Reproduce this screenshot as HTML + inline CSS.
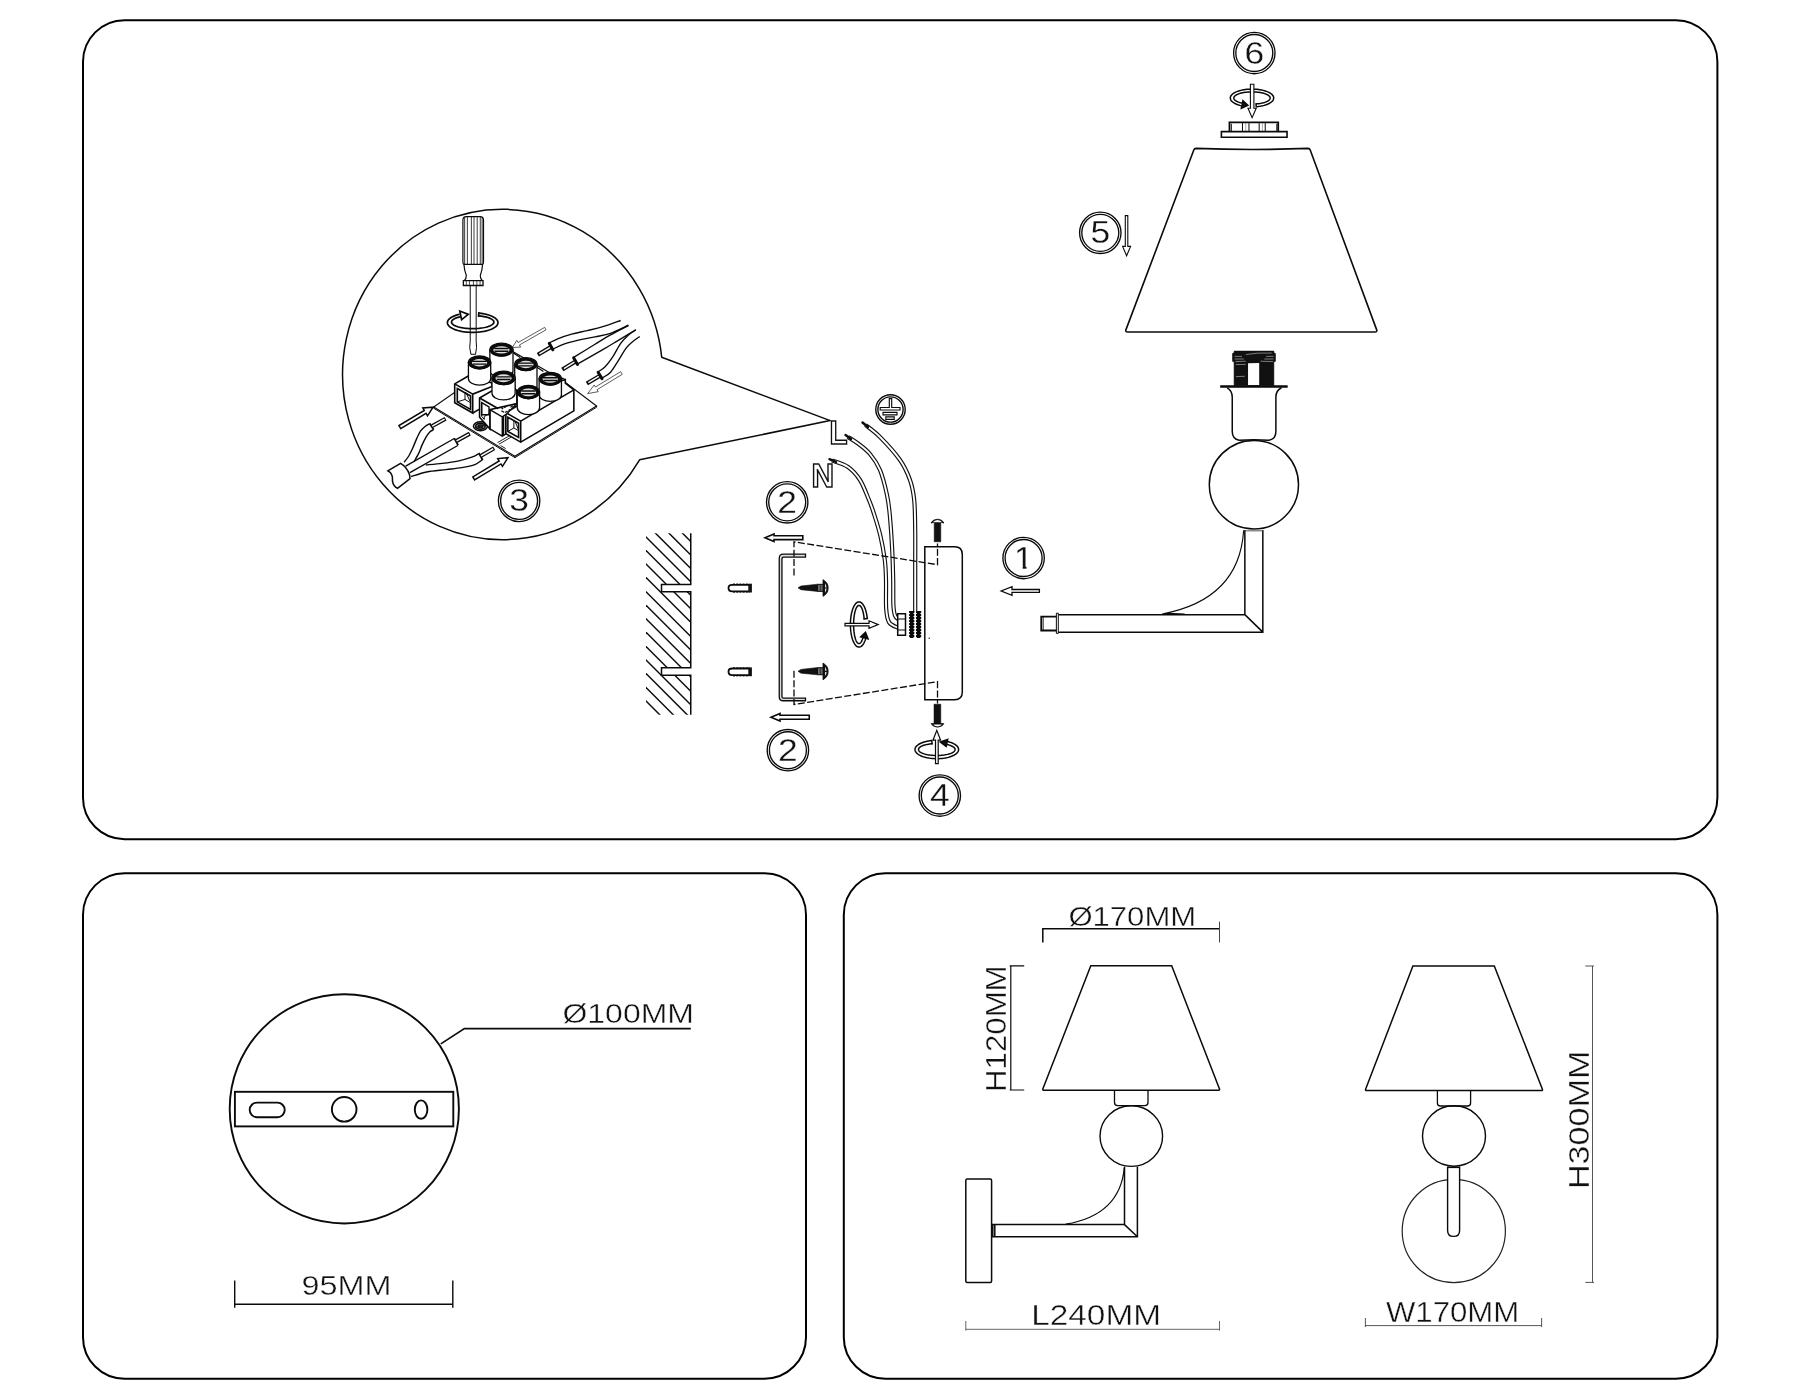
<!DOCTYPE html>
<html><head><meta charset="utf-8"><title>Installation</title>
<style>
html,body{margin:0;padding:0;background:#fff;}
body{width:1800px;height:1400px;overflow:hidden;}
svg{display:block;}
.t{font-family:"Liberation Sans",sans-serif;fill:#111;stroke:none;}
svg{filter:grayscale(1);}
.num{stroke:#fff;stroke-width:0.25px;}
.dim{stroke:#fff;stroke-width:0.4px;}
</style></head><body>
<svg width="1800" height="1400" viewBox="0 0 1800 1400" fill="none" stroke="#0a0a0a" stroke-width="1.3" stroke-linecap="butt" stroke-linejoin="miter">
<rect x="0" y="0" width="1800" height="1400" fill="#fff" stroke="none"/>
<rect x="83" y="20.2" width="1634.4" height="819" rx="41.5" ry="41.5" stroke-width="2" stroke="#000"/>
<rect x="83" y="873.2" width="723" height="505.5" rx="41.5" ry="41.5" stroke-width="2" stroke="#000"/>
<rect x="843.8" y="873.2" width="873.6" height="505.5" rx="41.5" ry="41.5" stroke-width="2" stroke="#000"/>
<g stroke-width="1.9">
<circle cx="344.3" cy="1108.9" r="114.6"/>
<rect x="234.9" y="1091.8" width="218.4" height="34.6"/>
<rect x="249.7" y="1102.6" width="35" height="14.6" rx="7.3" ry="7.3"/>
<circle cx="344.2" cy="1109.3" r="12.3"/>
<ellipse cx="421.1" cy="1109.6" rx="6.3" ry="9.2"/>
</g>
<path d="M440.8 1043.9 L464.4 1028.6 L690.8 1028.6" stroke-width="1.7"/>
<text x="562.5" y="1023.1" class="t dim" font-size="28.4" textLength="131.4" lengthAdjust="spacingAndGlyphs">Ø100MM</text>
<path d="M234.7 1304.2 L452.8 1304.2 M234.7 1280.6 L234.7 1307.8 M452.8 1280.6 L452.8 1307.8" stroke-width="1.4"/>
<text x="301.4" y="1295.3" class="t dim" font-size="28.4" textLength="90" lengthAdjust="spacingAndGlyphs">95MM</text>
<path d="M1042.8 928.8 L1219.5 928.8 M1042.8 928 L1042.8 942.5" stroke-width="1.5"/>
<path d="M1219.5 921.7 L1219.5 942.5" stroke-width="1" stroke="#444"/>
<text x="1068.4" y="926.3" class="t dim" font-size="28.4" textLength="127.8" lengthAdjust="spacingAndGlyphs">Ø170MM</text>
<path d="M1010.8 965.8 L1010.8 1090 M1009.7 965.8 L1024.2 965.8 M1009.7 1090 L1024.2 1090" stroke-width="1.2"/>
<text transform="translate(1005.6 1091.9) rotate(-90)" x="0" y="0" class="t dim" font-size="29.6" textLength="126.5" lengthAdjust="spacingAndGlyphs">H120MM</text>
<path d="M1090.8 965.8 L1171.7 965.8 L1219.5 1089 Q1219.9 1090.2 1218.6 1090.2 L1043.7 1090.2 Q1042.4 1090.2 1042.8 1089 Z" stroke-width="1.5"/>
<path d="M1114.5 1090.2 L1114.5 1102.5 Q1114.5 1105.6 1117.6 1105.6 L1144.9 1105.6 Q1148 1105.6 1148 1102.5 L1148 1090.2" stroke-width="1.3"/>
<ellipse cx="1131.3" cy="1136.1" rx="31.3" ry="30.3" stroke-width="1.4"/>
<path d="M1124.5 1166.8 L1124.5 1224.6 L992.8 1224.6 L992.8 1236.8 L1137.4 1236.8 L1137.4 1166.8 M1124.5 1224.6 L1137.4 1236.8 M994.8 1224.6 L994.8 1236.8" stroke-width="1.5"/>
<path d="M1124.3 1167.7 Q1120 1215 1065.7 1224.2" stroke-width="1.2"/>
<rect x="965.8" y="1178.9" width="25.8" height="103.5" rx="1.5" ry="1.5" stroke-width="1.5"/>
<path d="M965.8 1329.3 L1219.5 1329.3 M965.8 1321 L965.8 1330.6 M1219.5 1321 L1219.5 1330.6" stroke-width="0.9" stroke="#555"/>
<text x="1031.2" y="1324.9" class="t dim" font-size="29" textLength="129.8" lengthAdjust="spacingAndGlyphs">L240MM</text>
<path d="M1412.9 965.9 L1494.3 965.9 L1542.4 1089.3 Q1542.8 1090.5 1541.5 1090.5 L1366.5 1090.5 Q1365.2 1090.5 1365.6 1089.3 Z" stroke-width="1.5"/>
<path d="M1437.4 1090.5 L1437.4 1102.9 Q1437.4 1106 1440.5 1106 L1467.5 1106 Q1470.6 1106 1470.6 1102.9 L1470.6 1090.5" stroke-width="1.3"/>
<circle cx="1453.8" cy="1231" r="51.6" stroke-width="1.2" stroke="#222"/>
<path d="M1447.6 1166.6 L1447.6 1230.4 Q1447.6 1236.4 1453.6 1236.4 Q1459.6 1236.4 1459.6 1230.4 L1459.6 1166.6" fill="#fff" stroke-width="1.4"/>
<ellipse cx="1454" cy="1136" rx="31.5" ry="30.2" stroke-width="1.4"/>
<path d="M1448 1167.3 L1459.4 1167.3" stroke-width="1.6"/>
<path d="M1592.5 966 L1592.5 1282.4 M1585.3 966 L1594 966 M1585.3 1282.4 L1594 1282.4" stroke-width="0.9" stroke="#444"/>
<text transform="translate(1589 1189.1) rotate(-90)" x="0" y="0" class="t dim" font-size="29" textLength="138.6" lengthAdjust="spacingAndGlyphs">H300MM</text>
<path d="M1365 1325.6 L1541.6 1325.6 M1365.4 1318 L1365.4 1327 M1541.6 1318 L1541.6 1327" stroke-width="0.9" stroke="#444"/>
<text x="1385.9" y="1322" class="t dim" font-size="29" textLength="133.4" lengthAdjust="spacingAndGlyphs">W170MM</text>
<path d="M1196 148.4 Q1252 150.6 1308 148.4 Q1309.6 148.4 1310.2 150 L1376.6 329.6 Q1377.4 332 1375 332 L1127.6 332 Q1125.2 332 1126 329.6 L1193.8 150 Q1194.4 148.4 1196 148.4 Z" stroke-width="1.6"/>
<path d="M 1229.47 131.43 L 1229.47 122.42 L 1278.22 122.42 L 1278.22 131.43" stroke-width="1.8"/>
<path d="M 1231.32 123.82 L 1231.32 130.97 M 1242.47 123.07 L 1242.47 131.25 M 1248.97 123.07 L 1248.97 131.25 M 1259.18 123.07 L 1259.18 131.25 M 1265.22 123.07 L 1265.22 131.25 M 1276.82 123.82 L 1276.82 130.97" stroke-width="1.0"/>
<path d="M 1245.72 123.07 L 1245.72 131.25 M 1262.43 123.07 L 1262.43 131.25" stroke-width="0.6" stroke="#777"/>
<path d="M 1221.39 131.62 L 1287.04 131.62 L 1287.04 137.19 L 1221.39 137.19 Z" stroke-width="1.6"/>
<path d="M1241.29 105.74 L1239.87 105.38 L1238.52 104.97 L1237.25 104.53 L1236.06 104.04 L1234.98 103.52 L1233.99 102.96 L1233.11 102.38 L1232.34 101.77 L1231.69 101.14 L1231.16 100.48 L1230.76 99.82 L1230.48 99.14 L1230.33 98.46 L1230.31 97.77 L1230.42 97.08 L1230.65 96.4 L1231.01 95.73 L1231.5 95.08 L1232.11 94.44 L1232.84 93.82 L1233.69 93.23 L1234.64 92.66 L1235.69 92.13 L1236.85 91.63 L1238.09 91.17 L1239.42 90.75 L1240.82 90.37 L1242.28 90.04 L1243.81 89.76 L1245.38 89.52 L1247 89.34 L1248.64 89.21 L1250.3 89.13 L1251.98 89.1 L1253.65 89.13 L1255.31 89.2 L1256.96 89.34 L1258.57 89.52 L1260.15 89.75 L1261.67 90.03 L1263.14 90.36 L1264.54 90.74 L1265.87 91.16 L1267.12 91.62 L1268.27 92.11 L1269.33 92.64 L1270.29 93.21 L1271.13 93.8 L1271.87 94.42 L1272.48 95.06 L1272.97 95.71 L1273.34 96.38 L1273.58 97.06 L1273.69 97.75 L1273.67 98.44 L1273.53 99.12 L1273.25 99.8 L1272.85 100.47 L1272.33 101.12 L1271.68 101.75 L1270.91 102.36 L1270.04 102.95 L1269.05 103.5 L1267.97 104.03 L1266.79 104.51 L1265.52 104.96 L1264.17 105.37 L1262.75 105.73 L1261.26 106.05 L1259.72 106.32 L1258.14 106.54 L1256.51 106.71" stroke-width="1.5"/>
<path d="M1243.02 103.31 L1241.83 103.06 L1240.69 102.78 L1239.63 102.47 L1238.63 102.14 L1237.72 101.78 L1236.89 101.4 L1236.16 101 L1235.51 100.58 L1234.97 100.15 L1234.52 99.7 L1234.18 99.25 L1233.95 98.78 L1233.82 98.31 L1233.81 97.84 L1233.9 97.37 L1234.09 96.91 L1234.4 96.45 L1234.81 96 L1235.32 95.56 L1235.93 95.13 L1236.64 94.73 L1237.44 94.34 L1238.32 93.98 L1239.29 93.63 L1240.33 93.32 L1241.44 93.03 L1242.62 92.77 L1243.85 92.55 L1245.13 92.35 L1246.45 92.19 L1247.8 92.06 L1249.18 91.97 L1250.58 91.92 L1251.98 91.9 L1253.38 91.92 L1254.78 91.97 L1256.16 92.06 L1257.51 92.19 L1258.83 92.35 L1260.11 92.54 L1261.34 92.77 L1262.52 93.02 L1263.64 93.31 L1264.68 93.62 L1265.65 93.96 L1266.54 94.33 L1267.34 94.72 L1268.05 95.12 L1268.66 95.55 L1269.18 95.98 L1269.59 96.43 L1269.9 96.89 L1270.1 97.36 L1270.19 97.83 L1270.18 98.3 L1270.06 98.77 L1269.82 99.23 L1269.49 99.69 L1269.05 100.14 L1268.5 100.57 L1267.86 100.99 L1267.13 101.39 L1266.3 101.77 L1265.39 102.13 L1264.4 102.46 L1263.34 102.77 L1262.21 103.05 L1261.01 103.3 L1259.77 103.52 L1258.48 103.7 L1257.15 103.85 L1255.78 103.97" stroke-width="1.5"/>
<path d="M1241.37 108.24 L1247.85 105.34 L1242.95 100.81 Z" fill="#111" stroke-width="1.5" stroke-linejoin="miter"/>
<path d="M1255.98 103.18 L1256.32 107.5" stroke-width="1.5"/>
<path d="M1250.4 84.2 L1253.9 84.2 L1253.9 108.2 L1256.2 108.2 L1252.1 117.6 L1248 108.2 L1250.4 108.2 Z" fill="#fff" stroke-width="1.1"/>
<circle cx="1254.3" cy="53" r="20.7" stroke-width="1.35"/>
<circle cx="1254.3" cy="53" r="18.5" stroke-width="1.35"/>
<text transform="translate(1254.3 53) scale(1.2 1.04)" x="0" y="10.11" class="t num" font-size="29.5" text-anchor="middle">6</text>
<circle cx="1100.3" cy="232.8" r="20.7" stroke-width="1.35"/>
<circle cx="1100.3" cy="232.8" r="18.5" stroke-width="1.35"/>
<text transform="translate(1100.3 232.8) scale(1.2 1.04)" x="0" y="10.11" class="t num" font-size="29.5" text-anchor="middle">5</text>
<path d="M1125.3 215.6 L1127.8 215.6 L1127.8 246.4 L1130.6 246.4 L1126.6 255.8 L1122.6 246.4 L1125.3 246.4 Z" fill="#fff" stroke-width="1.1"/>
<path d="M 1234.11 351.11 L 1273.85 351.11 L 1273.85 352.69 L 1275.43 353.43 L 1275.43 361.32 L 1273.85 361.97 L 1273.85 385.47 L 1234.11 385.47 L 1234.11 361.97 L 1232.53 361.32 L 1232.53 353.43 L 1234.11 352.69 Z" fill="#111" stroke-width="0.6"/>
<path d="M 1248.04 363.18 L 1259.18 362.9 L 1259.18 385 L 1248.04 385 Z" fill="#fff" stroke="none"/>
<path d="M 1245.72 354.54 Q 1256.86 352.5 1271.72 353.06 M 1234.57 356.4 L 1242 356.4 M 1266.14 356.4 L 1273.57 356.4 M 1234.57 359 L 1243.86 359 M 1264.29 359 L 1273.57 359 M 1235.5 361.6 L 1245.72 361.23 M 1260.57 361.23 L 1273.11 361.6 M 1235.97 364.57 L 1245.72 364.39 M 1235.97 376.64 L 1244.79 376.27" stroke="#fff" stroke-width="0.45"/>
<path d="M 1220.18 386.49 L 1287.69 386.49" stroke-width="2.7"/>
<path d="M 1227.14 387.79 Q 1232.25 390.57 1232.25 397.07 L 1232.25 431.43 Q 1232.25 438.86 1239.22 440.25 Q 1254.07 439.32 1268.93 440.25 Q 1275.89 438.86 1275.89 431.43 L 1275.89 397.07 Q 1275.89 390.57 1281.47 387.79" stroke-width="1.5"/>
<ellipse cx="1253.9" cy="484.7" rx="44.6" ry="44.3" stroke-width="1.5"/>
<path d="M 1244.86 530.12 L 1244.86 614.65 L 1058.3 614.65 M 1058.3 632.14 L 1262.83 632.14 L 1262.83 530.12 M 1244.86 614.65 L 1262.83 632.14" stroke-width="1.5"/>
<path d="M 1244.86 530.85 L 1262.83 530.85" stroke-width="1.0" stroke="#555"/>
<path d="M 1243.64 530.36 Q 1239.27 599.35 1162.27 613.92 Q 1174.9 612.95 1184.61 614.17" stroke-width="1.1"/>
<path d="M 1056.36 613.2 L 1058.3 613.2 L 1058.3 633.36 L 1056.36 633.36 Z" stroke-width="1.0" fill="#fff"/>
<path d="M 1056.36 616.6 L 1041.3 616.6 L 1041.3 630.44 L 1056.36 630.44" stroke-width="1.9"/>
<path d="M 1043.24 616.84 L 1043.24 630.2" stroke-width="0.8"/>
<circle cx="1023.6" cy="558" r="20.7" stroke-width="1.35"/>
<circle cx="1023.6" cy="558" r="18.5" stroke-width="1.35"/>
<text transform="translate(1023.6 558) scale(1.2 1.04)" x="0" y="10.11" class="t num" font-size="29.5" text-anchor="middle">1</text>
<rect x="1015" y="565.6" width="7.6" height="4.4" fill="#fff" stroke="none"/><rect x="1026.5" y="565.6" width="7" height="4.4" fill="#fff" stroke="none"/>
<path d="M1039.4 589.5 L1039.4 592.4 L1012 592.4 L1012 595.3 L1001.2 591 L1012 586.7 L1012 589.5 Z" fill="#fff" stroke-width="1.3"/>
<clipPath id="wallclip"><path d="M646 533.2 L690.8 533.2 L690.8 584.3 L661.3 584.3 L661.3 591.9 L690.8 591.9 L690.8 667.6 L661.3 667.6 L661.3 675.4 L690.8 675.4 L690.8 714.8 L646 714.8 Z"/></clipPath>
<g clip-path="url(#wallclip)" stroke-width="1.45">
<path d="M645 495.7 L693 543.7"/>
<path d="M645 509.2 L693 557.2"/>
<path d="M645 522.7 L693 570.7"/>
<path d="M645 536.05 L693 584.05"/>
<path d="M645 549.55 L693 597.55"/>
<path d="M645 563.05 L693 611.05"/>
<path d="M645 576.55 L693 624.54"/>
<path d="M645 590.8 L693 638.79"/>
<path d="M645 604.3 L693 652.29"/>
<path d="M645 617.8 L693 665.79"/>
<path d="M645 631.29 L693 679.29"/>
<path d="M645 645.54 L693 693.54"/>
<path d="M645 659.04 L693 707.04"/>
<path d="M645 672.54 L693 720.54"/>
<path d="M645 686.49 L693 734.49"/>
<path d="M645 699.99 L693 747.99"/>
</g>
<path d="M 690.75 533.2 L 690.75 584.5 L 661.5 584.5 L 661.5 591.7 L 690.75 591.7 L 690.75 667.74 L 661.5 667.74 L 661.5 675.24 L 690.75 675.24 L 690.75 714.69" stroke-width="1.5"/>
<path d="M750 584.8 L732 584.8 Q728.5 584.8 728.5 588.1 Q728.5 591.4 732 591.4 L750 591.4" stroke-width="1.8"/>
<path d="M733 583.8 L748 583.8 M733 592.4 L748 592.4" stroke-width="0.7" stroke-dasharray="2 1.2"/>
<rect x="748.3" y="583.7" width="3.6" height="8.8" fill="#111" stroke="none"/>
<path d="M750 668.5 L732 668.5 Q728.5 668.5 728.5 671.8 Q728.5 675.1 732 675.1 L750 675.1" stroke-width="1.8"/>
<path d="M733 667.5 L748 667.5 M733 676.1 L748 676.1" stroke-width="0.7" stroke-dasharray="2 1.2"/>
<rect x="748.3" y="667.4" width="3.6" height="8.8" fill="#111" stroke="none"/>
<path d="M 805.5 554.2 L 783.3 554.2 Q 779.25 554.2 779.25 558.25 L 779.25 696.69 Q 779.25 700.74 783.3 700.74 L 805.5 700.74 L 805.5 698.04 L 783.6 698.04 Q 781.95 698.04 781.95 696.39 L 781.95 558.7 Q 781.95 557.05 783.6 557.05 L 805.5 557.05 Z" stroke-width="1.3" fill="#ddd"/>
<path d="M 765 537.7 L 774 533.95 L 774 535.75 L 802.8 535.75 L 802.8 539.65 L 774 539.65 L 774 541.45 Z" stroke-width="1.6" fill="#fff"/>
<path d="M 771 717.24 L 780 713.49 L 780 715.29 L 809.25 715.29 L 809.25 719.19 L 780 719.19 L 780 720.99 Z" stroke-width="1.6" fill="#fff"/>
<path d="M 798 587.87 L 801 586 L 818 584.13 L 818 591.47 L 801 589.73 Z" fill="#111" stroke-width="0.6"/>
<path d="M 818 584.33 L 823 584.33 L 823 591.33 L 818 591.33 Z" fill="#fff" stroke-width="1.0"/>
<path d="M 819.33 584.33 L 819.33 591.33 M 820.53 584.33 L 820.53 591.33 M 821.73 584.33 L 821.73 591.33" stroke-width="0.8"/>
<path d="M 823 579.67 Q 828.33 582.67 828.13 588 Q 828.33 593.33 823 596.33 Z" fill="#111" stroke-width="0.8"/>
<path d="M 825 583.33 Q 826.53 585.67 826.53 587.47 L 825.2 587.47 Z M 825 592.67 Q 826.53 590.33 826.53 588.53 L 825.2 588.53 Z" fill="#fff" stroke="none"/>
<path d="M 798 671.27 L 801 669.4 L 818 667.53 L 818 674.87 L 801 673.13 Z" fill="#111" stroke-width="0.6"/>
<path d="M 818 667.73 L 823 667.73 L 823 674.73 L 818 674.73 Z" fill="#fff" stroke-width="1.0"/>
<path d="M 819.33 667.73 L 819.33 674.73 M 820.53 667.73 L 820.53 674.73 M 821.73 667.73 L 821.73 674.73" stroke-width="0.8"/>
<path d="M 823 663.07 Q 828.33 666.07 828.13 671.4 Q 828.33 676.73 823 679.73 Z" fill="#111" stroke-width="0.8"/>
<path d="M 825 666.73 Q 826.53 669.07 826.53 670.87 L 825.2 670.87 Z M 825 676.07 Q 826.53 673.73 826.53 671.93 L 825.2 671.93 Z" fill="#fff" stroke="none"/>
<path d="M865.62 638.91 L865.2 640.16 L864.75 641.32 L864.26 642.38 L863.74 643.35 L863.2 644.22 L862.64 644.98 L862.05 645.63 L861.45 646.16 L860.84 646.58 L860.21 646.87 L859.58 647.05 L858.95 647.1 L858.31 647.03 L857.68 646.83 L857.06 646.52 L856.45 646.08 L855.85 645.53 L855.27 644.86 L854.71 644.08 L854.17 643.2 L853.66 642.21 L853.18 641.13 L852.73 639.96 L852.31 638.7 L851.93 637.36 L851.59 635.96 L851.29 634.49 L851.03 632.97 L850.81 631.4 L850.64 629.8 L850.51 628.16 L850.43 626.51 L850.4 624.84 L850.41 623.18 L850.48 621.52 L850.58 619.87 L850.73 618.26 L850.93 616.67 L851.17 615.13 L851.46 613.64 L851.78 612.21 L852.15 610.84 L852.55 609.55 L852.99 608.34 L853.46 607.22 L853.96 606.2 L854.48 605.27 L855.03 604.45 L855.61 603.73 L856.2 603.13 L856.81 602.65 L857.43 602.28 L858.05 602.04 L858.69 601.92 L859.32 601.92 L859.95 602.04 L860.58 602.28 L861.2 602.65 L861.81 603.14 L862.4 603.74 L862.97 604.45 L863.52 605.28 L864.05 606.21 L864.55 607.23 L865.02 608.36 L865.45 609.56 L865.86 610.86 L866.22 612.22 L866.54 613.65 L866.83 615.14 L867.07 616.69 L867.27 618.27" stroke-width="1.5"/>
<path d="M863.16 636.68 L862.89 637.73 L862.61 638.71 L862.3 639.61 L861.98 640.43 L861.64 641.17 L861.28 641.81 L860.92 642.36 L860.54 642.81 L860.15 643.16 L859.76 643.41 L859.37 643.56 L858.97 643.6 L858.57 643.54 L858.17 643.37 L857.78 643.11 L857.4 642.74 L857.02 642.27 L856.66 641.71 L856.3 641.05 L855.97 640.3 L855.65 639.47 L855.34 638.55 L855.06 637.56 L854.8 636.5 L854.56 635.37 L854.35 634.18 L854.16 632.94 L853.99 631.66 L853.86 630.33 L853.75 628.98 L853.67 627.6 L853.62 626.2 L853.6 624.79 L853.61 623.38 L853.65 621.98 L853.71 620.59 L853.81 619.22 L853.93 617.88 L854.09 616.58 L854.26 615.32 L854.47 614.11 L854.7 612.96 L854.95 611.87 L855.22 610.85 L855.52 609.9 L855.83 609.03 L856.16 608.25 L856.51 607.55 L856.87 606.95 L857.24 606.44 L857.62 606.03 L858.01 605.72 L858.41 605.52 L858.8 605.41 L859.2 605.41 L859.6 605.52 L859.99 605.73 L860.38 606.03 L860.76 606.45 L861.13 606.95 L861.49 607.56 L861.84 608.25 L862.17 609.04 L862.48 609.91 L862.78 610.86 L863.05 611.88 L863.3 612.97 L863.53 614.12 L863.74 615.33 L863.92 616.59 L864.07 617.9 L864.19 619.24" stroke-width="1.5"/>
<path d="M868.05 638.81 L865.49 632.31 L860.73 636.78 Z" fill="#111" stroke-width="1.5" stroke-linejoin="miter"/>
<path d="M863.38 618.98 L868.08 618.53" stroke-width="1.5"/>
<path d="M845 623.3 L869 623.3 L869 620.8 L878.2 624.6 L869 628.4 L869 625.9 L845 625.9 Z" fill="#fff" stroke-width="1.2"/>
<path d="M832 460.4 C834.67 461.5 843.33 463.73 848 467 C852.67 470.27 856.5 474.5 860 480 C863.5 485.5 866.77 494.67 869 500 C871.23 505.33 871.53 506.17 873.4 512 C875.27 517.83 878.3 527 880.2 535 C882.1 543 883.83 552.5 884.8 560 C885.77 567.5 885.77 571.83 886 580 C886.23 588.17 885.67 601.92 886.2 609 C886.73 616.08 887.15 619.33 889.2 622.5 C891.25 625.67 896.95 627.08 898.5 628" stroke-width="4.2" stroke="#111"/>
<path d="M832 460.4 C834.67 461.5 843.33 463.73 848 467 C852.67 470.27 856.5 474.5 860 480 C863.5 485.5 866.77 494.67 869 500 C871.23 505.33 871.53 506.17 873.4 512 C875.27 517.83 878.3 527 880.2 535 C882.1 543 883.83 552.5 884.8 560 C885.77 567.5 885.77 571.83 886 580 C886.23 588.17 885.67 601.92 886.2 609 C886.73 616.08 887.15 619.33 889.2 622.5 C891.25 625.67 896.95 627.08 898.5 628" stroke-width="1.9" stroke="#fff"/>
<path d="M829.5 459.2 L836 462" stroke-width="2.4" stroke-linecap="round"/>
<path d="M848 437 C849.67 438.08 854.33 440.67 858 443.5 C861.67 446.33 866.33 449.58 870 454 C873.67 458.42 877.17 463.17 880 470 C882.83 476.83 885.37 487.5 887 495 C888.63 502.5 888.93 505.83 889.8 515 C890.67 524.17 891.63 539.17 892.2 550 C892.77 560.83 893 570.83 893.2 580 C893.4 589.17 893.1 599.08 893.4 605 C893.7 610.92 894.15 613.08 895 615.5 C895.85 617.92 897.92 618.83 898.5 619.5" stroke-width="4.2" stroke="#111"/>
<path d="M848 437 C849.67 438.08 854.33 440.67 858 443.5 C861.67 446.33 866.33 449.58 870 454 C873.67 458.42 877.17 463.17 880 470 C882.83 476.83 885.37 487.5 887 495 C888.63 502.5 888.93 505.83 889.8 515 C890.67 524.17 891.63 539.17 892.2 550 C892.77 560.83 893 570.83 893.2 580 C893.4 589.17 893.1 599.08 893.4 605 C893.7 610.92 894.15 613.08 895 615.5 C895.85 617.92 897.92 618.83 898.5 619.5" stroke-width="1.9" stroke="#fff"/>
<path d="M845.5 435 L851 439" stroke-width="2.4" stroke-linecap="round"/>
<path d="M865.5 425 C867.92 427 874.25 431.17 880 437 C885.75 442.83 895 452.83 900 460 C905 467.17 907.63 473.33 910 480 C912.37 486.67 913.33 491.67 914.2 500 C915.07 508.33 915.03 518.33 915.2 530 C915.37 541.67 915.2 556.33 915.2 570 C915.2 583.67 915.2 605 915.2 612" stroke-width="4.2" stroke="#111"/>
<path d="M865.5 425 C867.92 427 874.25 431.17 880 437 C885.75 442.83 895 452.83 900 460 C905 467.17 907.63 473.33 910 480 C912.37 486.67 913.33 491.67 914.2 500 C915.07 508.33 915.03 518.33 915.2 530 C915.37 541.67 915.2 556.33 915.2 570 C915.2 583.67 915.2 605 915.2 612" stroke-width="1.9" stroke="#fff"/>
<path d="M862.5 422.5 L868 427" stroke-width="2.4" stroke-linecap="round"/>
<path d="M 897.7 613.7 L 905.5 613.7 L 905.5 635.3 L 897.7 635.3 Z" fill="#fff" stroke-width="1.5"/>
<path d="M 897.7 619 L 905.5 619 M 897.7 630 L 905.5 630" stroke-width="1.2"/>
<path d="M911.7 611 L911.7 638" stroke-width="3.6"/>
<path d="M911.7 611 L911.7 638" stroke-width="5.2" stroke-dasharray="1.9 1.1"/>
<path d="M918.6 611 L918.6 638" stroke-width="3.6"/>
<path d="M918.6 611 L918.6 638" stroke-width="5.2" stroke-dasharray="1.9 1.1"/>
<path d="M924.8 546.8 L954.6 546.8 Q962.3 546.8 962.3 554.5 L962.3 692 Q962.3 699.7 954.6 699.7 L924.8 699.7 Z" stroke-width="1.5"/>
<circle cx="929.2" cy="638.3" r="0.7" fill="#111" stroke="none"/>
<path d="M 934.2 521.8 L 940.8 521.8 L 940.8 541.8 L 934.2 541.8 Z" fill="#111" stroke-width="0.5"/>
<path d="M 931 523 Q 932.5 519.5 937.5 519.2 Q 942.5 519.5 944 523 L 940.8 522.4 L 934.2 522.4 Z" fill="#111" stroke-width="0.8"/>
<path d="M 933 522.2 Q 934 520.4 937.5 520.1 Q 941 520.4 942 522.2 Z" fill="#fff" stroke="none"/>
<path d="M 934 704.2 L 940.8 704.2 L 940.8 724 L 934 724 Z" fill="#111" stroke-width="0.5"/>
<path d="M 931.2 723.6 L 943.8 723.6 Q 942.5 726.8 937.5 727.2 Q 932.5 726.8 931.2 723.6 Z" fill="#111" stroke-width="0.8"/>
<path d="M 933.2 724.6 L 941.8 724.6 Q 940.8 726.2 937.5 726.4 Q 934.2 726.2 933.2 724.6 Z" fill="#fff" stroke="none"/>
<g stroke-width="1.3" stroke-dasharray="7 2.4">
<path d="M794 575.5 L794 541.8 L937.5 564.7 L937.5 543.4"/>
<path d="M794 670.8 L794 704.5 L937.5 681.6 L937.5 703.6"/>
</g>
<path d="M947.79 741.55 L949.2 741.93 L950.53 742.35 L951.78 742.82 L952.95 743.32 L954.02 743.86 L955 744.43 L955.86 745.03 L956.61 745.66 L957.25 746.31 L957.77 746.98 L958.16 747.67 L958.43 748.36 L958.58 749.06 L958.59 749.77 L958.48 750.47 L958.24 751.17 L957.88 751.85 L957.39 752.53 L956.78 753.18 L956.05 753.81 L955.22 754.42 L954.27 755 L953.22 755.55 L952.08 756.06 L950.84 756.54 L949.53 756.97 L948.14 757.36 L946.68 757.7 L945.16 758 L943.6 758.24 L942 758.43 L940.36 758.58 L938.71 758.66 L937.04 758.7 L935.37 758.68 L933.72 758.61 L932.07 758.48 L930.46 758.3 L928.89 758.07 L927.36 757.79 L925.88 757.46 L924.47 757.09 L923.13 756.67 L921.87 756.2 L920.7 755.7 L919.62 755.17 L918.65 754.6 L917.78 753.99 L917.02 753.37 L916.38 752.72 L915.85 752.05 L915.45 751.37 L915.18 750.67 L915.03 749.97 L915.01 749.27 L915.11 748.56 L915.35 747.87 L915.7 747.18 L916.19 746.51 L916.79 745.85 L917.51 745.21 L918.34 744.6 L919.28 744.02 L920.33 743.47 L921.47 742.96 L922.7 742.48 L924.01 742.05 L925.4 741.66 L926.85 741.31 L928.36 741.02 L929.92 740.77 L931.53 740.57" stroke-width="1.5"/>
<path d="M946.02 744.32 L947.21 744.56 L948.33 744.84 L949.38 745.14 L950.36 745.47 L951.26 745.82 L952.07 746.2 L952.8 746.59 L953.43 747 L953.97 747.42 L954.4 747.86 L954.73 748.3 L954.96 748.76 L955.08 749.21 L955.09 749.67 L955 750.13 L954.8 750.59 L954.49 751.03 L954.08 751.47 L953.57 751.9 L952.96 752.31 L952.26 752.71 L951.46 753.09 L950.58 753.45 L949.62 753.78 L948.59 754.09 L947.48 754.37 L946.32 754.62 L945.09 754.85 L943.82 755.04 L942.51 755.2 L941.16 755.33 L939.79 755.42 L938.4 755.48 L937 755.5 L935.6 755.49 L934.21 755.44 L932.83 755.36 L931.48 755.24 L930.16 755.09 L928.87 754.91 L927.63 754.69 L926.45 754.45 L925.33 754.17 L924.27 753.87 L923.29 753.55 L922.38 753.2 L921.56 752.82 L920.83 752.43 L920.2 752.02 L919.66 751.6 L919.22 751.16 L918.88 750.72 L918.65 750.26 L918.52 749.81 L918.51 749.35 L918.59 748.89 L918.79 748.44 L919.09 747.99 L919.5 747.55 L920 747.12 L920.61 746.71 L921.31 746.31 L922.1 745.93 L922.97 745.57 L923.93 745.23 L924.96 744.92 L926.06 744.64 L927.23 744.39 L928.45 744.16 L929.72 743.97 L931.03 743.81 L932.37 743.68" stroke-width="1.5"/>
<path d="M947.68 739.42 L940.28 742.02 L946.13 746.45 Z" fill="#111" stroke-width="1.5" stroke-linejoin="miter"/>
<path d="M932.17 744.47 L931.73 739.78" stroke-width="1.5"/>
<path d="M936.8 730.4 L940.6 740.2 L938.2 740.2 L938.2 763.6 L935.5 763.6 L935.5 740.2 L933 740.2 Z" fill="#fff" stroke-width="1.2"/>
<circle cx="787.2" cy="502.3" r="20.7" stroke-width="1.35"/>
<circle cx="787.2" cy="502.3" r="18.5" stroke-width="1.35"/>
<text transform="translate(787.2 502.3) scale(1.2 1.04)" x="0" y="10.11" class="t num" font-size="29.5" text-anchor="middle">2</text>
<circle cx="787.9" cy="750.2" r="20.7" stroke-width="1.35"/>
<circle cx="787.9" cy="750.2" r="18.5" stroke-width="1.35"/>
<text transform="translate(787.9 750.2) scale(1.2 1.04)" x="0" y="10.11" class="t num" font-size="29.5" text-anchor="middle">2</text>
<circle cx="939.8" cy="795.5" r="20.7" stroke-width="1.35"/>
<circle cx="939.8" cy="795.5" r="18.5" stroke-width="1.35"/>
<text transform="translate(939.8 795.5) scale(1.2 1.04)" x="0" y="10.11" class="t num" font-size="29.5" text-anchor="middle">4</text>
<text x="829.6" y="443.6" font-family="Liberation Sans, sans-serif" font-weight="bold" font-size="33" fill="#fff" stroke="#111" stroke-width="1.5" textLength="18" lengthAdjust="spacingAndGlyphs">L</text>
<text x="811.6" y="486.6" font-family="Liberation Sans, sans-serif" font-weight="bold" font-size="33" fill="#fff" stroke="#111" stroke-width="1.5" textLength="22.6" lengthAdjust="spacingAndGlyphs">N</text>
<circle cx="890.5" cy="409.5" r="14.7" stroke-width="1.4"/><circle cx="890.5" cy="409.5" r="12.6" stroke-width="1.4"/>
<path d="M889.3 398.6 L891.7 398.6 L891.7 407.5 L900 407.5 L900 410 L880.2 410 L880.2 407.5 L889.3 407.5 Z M883 412.4 L897 412.4 L897 414.8 L883 414.8 Z M885.8 416.9 L894.2 416.9 L894.2 419.4 L885.8 419.4 Z" stroke-width="1.15" fill="#fff"/>
<path d="M661.7 357.2 A160 165.2 0 1 0 639.6 459.8 L830.2 420.6 Z" stroke-width="1.5" stroke-linejoin="round"/>
<circle cx="519.1" cy="500.9" r="20.7" stroke-width="1.35"/>
<circle cx="519.1" cy="500.9" r="18.5" stroke-width="1.35"/>
<text transform="translate(519.1 500.9) scale(1.2 1.04)" x="0" y="10.11" class="t num" font-size="29.5" text-anchor="middle">3</text>
<path d="M 462.91 261.71 L 462.91 220 Q 462.91 216.57 466.34 216.57 L 480.06 216.57 Q 483.49 216.57 483.49 220 L 483.49 261.71 Q 483.49 264 482.57 264.34 L 463.83 264.34 Q 462.91 264 462.91 261.71 Z" stroke-width="1.2" fill="#fff"/>
<path d="M 464.63 217.14 L 464.63 264 M 467.37 216.8 L 467.37 264.23 M 471.37 216.8 L 471.37 264.23 M 474 216.8 L 474 264.23 M 477.2 216.8 L 477.2 264.23 M 480.29 216.8 L 480.29 264.23 M 482.11 217.37 L 482.11 264" stroke-width="0.8"/>
<path d="M 463.94 264.57 Q 464.29 270.86 466.34 275.43 Q 466.34 278.86 464.29 280.69 M 482.57 264.57 Q 482.23 270.86 480.29 275.43 Q 480.29 278.86 482.34 280.69" stroke-width="1.2"/>
<path d="M 463.37 280.69 L 483.03 280.69 L 483.03 285.49 L 463.37 285.49 Z" stroke-width="1.3" fill="#fff"/>
<path d="M 466.34 280.91 L 466.34 285.26 M 469.43 280.91 L 469.43 285.26 M 473.43 280.91 L 473.43 285.26 M 476.86 280.91 L 476.86 285.26 M 480.06 280.91 L 480.06 285.26" stroke-width="0.7"/>
<path d="M 470.23 285.71 L 470.23 341.14 Q 468.86 347.43 470.91 354.29 M 476.17 285.71 L 476.17 341.14 Q 477.31 347.43 475.49 354.29 M 470.69 354.29 L 475.71 354.29" stroke-width="1.0"/>
<path d="M479.25 313.18 L481.09 313.4 L482.88 313.67 L484.61 314 L486.27 314.37 L487.86 314.79 L489.35 315.26 L490.75 315.77 L492.05 316.32 L493.23 316.9 L494.3 317.52 L495.24 318.17 L496.04 318.84 L496.72 319.54 L497.25 320.25 L497.65 320.98 L497.89 321.71 L498 322.45 L497.95 323.19 L497.76 323.93 L497.43 324.66 L496.95 325.38 L496.33 326.08 L495.57 326.77 L494.69 327.42 L493.67 328.05 L492.53 328.65 L491.28 329.22 L489.92 329.74 L488.46 330.23 L486.91 330.67 L485.28 331.06 L483.58 331.4 L481.81 331.7 L479.99 331.94 L478.12 332.12 L476.23 332.25 L474.31 332.33 L472.39 332.35 L470.47 332.31 L468.56 332.22 L466.67 332.07 L464.82 331.87 L463.02 331.61 L461.27 331.3 L459.58 330.94 L457.98 330.53 L456.46 330.07 L455.03 329.58 L453.7 329.04 L452.49 328.46 L451.39 327.85 L450.41 327.21 L449.57 326.55 L448.86 325.86 L448.28 325.15 L447.85 324.43 L447.56 323.69 L447.42 322.95 L447.42 322.21 L447.57 321.47 L447.86 320.74 L448.3 320.02 L448.88 319.31 L449.6 318.62 L450.45 317.96 L451.43 317.32 L452.54 316.71 L453.76 316.14 L455.09 315.6 L456.52 315.1 L458.04 314.65 L459.66 314.25" stroke-width="1.7"/>
<path d="M478.19 315.77 L479.73 315.92 L481.23 316.1 L482.68 316.32 L484.07 316.57 L485.4 316.86 L486.65 317.17 L487.83 317.51 L488.91 317.88 L489.9 318.27 L490.8 318.69 L491.58 319.12 L492.26 319.58 L492.83 320.04 L493.27 320.52 L493.6 321.01 L493.81 321.5 L493.9 322 L493.86 322.5 L493.7 322.99 L493.42 323.49 L493.02 323.97 L492.5 324.44 L491.87 324.9 L491.12 325.34 L490.27 325.76 L489.32 326.17 L488.27 326.54 L487.13 326.9 L485.91 327.22 L484.61 327.52 L483.24 327.78 L481.81 328.01 L480.33 328.21 L478.81 328.37 L477.24 328.5 L475.66 328.59 L474.05 328.64 L472.44 328.65 L470.83 328.62 L469.23 328.56 L467.65 328.46 L466.1 328.32 L464.59 328.15 L463.12 327.94 L461.71 327.7 L460.36 327.43 L459.09 327.12 L457.89 326.79 L456.78 326.43 L455.76 326.04 L454.84 325.63 L454.02 325.2 L453.32 324.75 L452.72 324.29 L452.24 323.81 L451.88 323.33 L451.63 322.84 L451.51 322.34 L451.52 321.84 L451.64 321.34 L451.89 320.85 L452.26 320.37 L452.74 319.89 L453.34 319.43 L454.06 318.98 L454.88 318.55 L455.8 318.14 L456.83 317.76 L457.94 317.4 L459.14 317.06 L460.42 316.76 L461.77 316.49" stroke-width="1.7"/>
<path d="M478.95 312 L478.49 316.95" stroke-width="1.7"/>
<path d="M461.62 319.67 L468.26 314.35 L459.8 311.06 Z" fill="#fff" stroke-width="1.7" stroke-linejoin="miter"/>
<path d="M 544.68 327.37 L 518.05 342.54 L 516.82 340.38 L 512.32 347.41 L 520.67 347.13 L 519.44 344.97 L 546.07 329.81 Z" stroke-width="0.8" stroke="#333" fill="#fff"/>
<path d="M 620.64 371.67 L 595.44 387.02 L 594.22 385.03 L 587.61 393.61 L 598.27 391.67 L 597.06 389.68 L 622.26 374.33 Z" stroke-width="0.8" stroke="#333" fill="#fff"/>
<path d="M549.11 343.06 C550.54 342.34 553.91 340.27 557.67 338.78 C561.43 337.29 566.74 335.47 571.67 334.11 C576.59 332.75 582.04 331.84 587.22 330.61 C592.41 329.38 597.2 328.41 602.78 326.72 C608.35 325.04 617.69 321.54 620.67 320.5" stroke-width="1.35"/>
<path d="M553.39 348.89 C555.14 348.11 559.55 345.71 563.89 344.22 C568.23 342.73 574.26 341.18 579.45 339.94 C584.63 338.71 589.82 337.94 595 336.83 C600.19 335.73 604.98 335.28 610.56 333.33 C616.13 331.39 625.46 326.53 628.45 325.17" stroke-width="1.35"/>
<path d="M537.83 354.72 L550.67 347.18" stroke-width="4.2" stroke-linecap="butt"/>
<path d="M539.37 353.82 L550.67 347.18" stroke-width="1.4" stroke="#fff"/>
<path d="M549.27 343.29 L552.84 349.67" stroke-width="3.0" stroke-linecap="round"/>
<path d="M573.61 357.44 C577.18 355.24 588.84 347.98 595 344.22 C601.16 340.46 604.98 338 610.56 334.89 C616.13 331.78 625.46 327.11 628.45 325.56" stroke-width="1.35"/>
<path d="M578.28 363.67 C582.36 361.33 596.1 353.56 602.78 349.67 C609.45 345.78 612.83 343.64 618.33 340.33 C623.84 337.03 632.92 331.58 635.83 329.83" stroke-width="1.35"/>
<path d="M562.33 369.5 L575.17 361.72" stroke-width="4.2" stroke-linecap="butt"/>
<path d="M563.87 368.57 L575.17 361.72" stroke-width="1.4" stroke="#fff"/>
<path d="M573.61 357.83 L577.5 364.45" stroke-width="3.0" stroke-linecap="round"/>
<path d="M598.11 371.83 C599.28 370.99 602.65 369.31 605.11 366.78 C607.57 364.25 610.3 360.56 612.89 356.67 C615.48 352.78 618.08 347.07 620.67 343.44 C623.26 339.82 625.92 337.16 628.45 334.89 C630.97 332.62 634.6 330.68 635.83 329.83" stroke-width="1.35"/>
<path d="M602.78 377.67 C604.07 376.76 607.96 375.07 610.56 372.22 C613.15 369.37 615.74 364.57 618.33 360.56 C620.93 356.54 623.78 351.22 626.11 348.11 C628.45 345 630.07 343.83 632.33 341.89 C634.6 339.94 638.49 337.35 639.72 336.44" stroke-width="1.35"/>
<path d="M586.83 383.5 L599.67 375.96" stroke-width="4.2" stroke-linecap="butt"/>
<path d="M588.37 382.6 L599.67 375.96" stroke-width="1.4" stroke="#fff"/>
<path d="M598.11 372.22 L602 378.6" stroke-width="3.0" stroke-linecap="round"/>
<path d="M429.78 423.72 C429 424.18 426.67 425.21 425.11 426.44 C423.56 427.68 421.87 429.04 420.44 431.11 C419.02 433.19 417.85 436.04 416.56 438.89 C415.26 441.74 413.96 445.37 412.67 448.22 C411.37 451.07 410.2 453.67 408.78 456 C407.35 458.33 404.89 461.19 404.11 462.22" stroke-width="1.4"/>
<path d="M433.28 429.94 C432.7 430.27 431.01 430.66 429.78 431.89 C428.55 433.12 427.19 435.13 425.89 437.33 C424.59 439.54 423.17 442.52 422 445.11 C420.83 447.7 420.19 450.17 418.89 452.89 C417.59 455.61 415 460.02 414.22 461.45" stroke-width="1.4"/>
<path d="M 429.78 423.49 L 433.67 429.71" stroke-width="1.8"/>
<path d="M432.27 426.06 L445.57 418.67" stroke-width="4.1" stroke-linecap="butt"/>
<path d="M432.27 426.06 L444.64 419.18" stroke-width="1.5" stroke="#fff"/>
<path d="M 454.28 438.5 L 405.67 466.11 M 457.78 445.5 L 409.94 472.72" stroke-width="1.4"/>
<path d="M 454.28 438.27 L 458.17 445.27" stroke-width="1.8"/>
<path d="M456.61 440.83 L469.83 433.6" stroke-width="4.1" stroke-linecap="butt"/>
<path d="M456.61 440.83 L468.91 434.11" stroke-width="1.5" stroke="#fff"/>
<path d="M478.78 453.67 C477.61 454.25 475.28 455.94 471.78 457.17 C468.28 458.4 462.7 460.02 457.78 461.06 C452.85 462.09 447.54 462.74 442.22 463.39 C436.91 464.04 428.61 464.69 425.89 464.95" stroke-width="1.4"/>
<path d="M482.28 459.89 C481.05 460.67 478.33 463.26 474.89 464.56 C471.45 465.85 466.46 466.82 461.67 467.67 C456.87 468.51 451.95 468.9 446.11 469.61 C440.28 470.32 432.5 470.78 426.67 471.95 C420.83 473.11 413.7 475.83 411.11 476.61" stroke-width="1.4"/>
<path d="M 478.78 453.05 L 482.67 460.05" stroke-width="1.8"/>
<path d="M481.11 455.85 L494.18 448.22" stroke-width="4.1" stroke-linecap="butt"/>
<path d="M481.11 455.85 L493.26 448.76" stroke-width="1.5" stroke="#fff"/>
<path d="M 387.78 470.78 L 400.61 463.39 Q 406.83 466.89 409.56 474.67 L 410.02 478.56 L 397.5 488.28 Q 393.22 486.33 392.44 480.89 Q 393.07 475.83 390.11 472.33 Z" stroke-width="1.5" fill="#fff"/>
<path d="M 400.71 428.53 L 426.05 413.34 L 427.53 415.81 L 433.05 407.16 L 422.81 407.94 L 424.29 410.41 L 398.95 425.6 Z" stroke-width="1.5" fill="#fff"/>
<path d="M 474.61 479.87 L 500.98 463.92 L 502.47 466.39 L 507.95 457.71 L 497.72 458.53 L 499.21 461 L 472.84 476.94 Z" stroke-width="1.5" fill="#fff"/>
<path d="M 433.71 407.08 L 514.88 456.28 L 596.57 405.97 L 561.43 379.57 L 513 351.71 Z" stroke-width="1.1" fill="#fff"/>
<path d="M 433.71 408.28 L 514.88 457.65 L 596.57 407.26" stroke-width="1.0"/>
<path d="M 433.71 407.08 L 433.71 408.28 M 514.88 456.28 L 514.88 457.65 M 596.57 405.97 L 596.57 407.26" stroke-width="1.0"/>
<path d="M 497.57 442.57 L 510 435.45 M 498.86 444.28 L 511.28 437 M 500.57 445.57 L 505.71 448.57" stroke-width="0.9"/>
<ellipse cx="480.43" cy="426.28" rx="7.03" ry="4.46" stroke-width="1.4" fill="#bbb"/>
<ellipse cx="480.43" cy="426.28" rx="4.71" ry="2.91" stroke-width="1.6"/>
<ellipse cx="480.43" cy="426.28" rx="2.4" ry="1.46" stroke-width="1.2" fill="#555"/>
<path d="M 474.86 427.57 L 486 425" stroke-width="0.9"/>
<path d="M 505.71 412.57 L 558.85 381.71 L 565.28 379.57 L 565.28 383 L 573.85 389.86 L 573.85 410.85 L 520.71 442.14 L 505.71 433.57 Z" stroke-width="1.6" fill="#fff"/>
<path d="M 505.71 412.57 L 520.71 421.14 L 520.71 442.14 M 520.71 421.14 L 573.85 389.86" stroke-width="1.6"/>
<path d="M 507.86 417.28 L 518.57 423.28 L 518.57 437.43 L 507.86 431.43 Z" stroke-width="1.6"/>
<path d="M 513.86 420.71 L 513.86 428 L 518.57 430.57 M 513.86 428 L 507.86 431.43 M 515.14 421.57 L 518.14 428.85" stroke-width="1.0"/>
<path d="M 561.43 377.86 L 565.28 379.57 M 561.43 377.86 L 561.43 381.71" stroke-width="1.2"/>
<path d="M 489.86 409.57 L 498 404.86 L 510 402.71 L 516 404.43 L 505.71 414.71 L 505.71 434 L 502.28 436.14 L 489.86 428.85 Z" stroke-width="1.4" fill="#fff"/>
<path d="M 489.86 409.57 L 502.28 416.85 L 502.28 436.14 M 502.28 416.85 L 505.71 414.71 M 503.57 416.17 L 503.57 435.28" stroke-width="1.4"/>
<path d="M 498 407.86 L 500.57 406.31 L 502.28 408.71 L 509.14 404.86 L 510.86 407 L 515.14 404.6 M 501.43 410.85 L 504.86 412.57 L 510 409.57" stroke-width="1.2" stroke-dasharray="3 1"/>
<path d="M 479.57 398 L 492.86 390.28 L 516.86 389.86 L 516.86 403.57 L 498 407.86 L 489.86 409.57 L 489.86 428.85 L 479.57 417.28 Z" stroke-width="1.6" fill="#fff"/>
<path d="M 479.57 398 L 498 408.54" stroke-width="1.6"/>
<path d="M 481.71 402.71 L 489 406.83 L 489 414.71 L 481.71 414.71 Z" stroke-width="1.4"/>
<path d="M 481.71 402.71 L 481.71 416.43 L 484.28 419.43 M 489 413.85 L 484.28 416.43 L 484.28 419.43" stroke-width="1.0"/>
<path d="M 454.71 383.86 L 468.43 375.97 L 492 383 L 492 386.43 L 472.71 394.14 L 472.71 413 L 454.71 402.71 Z" stroke-width="1.6" fill="#fff"/>
<path d="M 472.71 413 L 479.57 409.14 M 454.71 383.86 L 472.71 394.14" stroke-width="1.6"/>
<path d="M 457.29 388.57 L 470.57 396.03 L 470.57 409.4 L 457.29 401.86 Z" stroke-width="1.6"/>
<path d="M 465 392.26 L 465 399.46 L 470.57 402.71 M 465 399.46 L 457.29 401.86 M 466.29 393.28 L 469.89 401 M 465 392.26 L 470.57 396.03" stroke-width="1.0"/>
<path d="M 513.26 353 L 520.28 357.46 M 536.57 366.88 L 543.43 371.43" stroke-width="1.2"/>
<path d="M489.86 349.57 L489.86 371 A11.57 6.43 0 0 0 513 371 L513 349.57 Z" fill="#fff" stroke-width="1.3"/>
<ellipse cx="501.43" cy="349.57" rx="11.57" ry="6.43" stroke-width="1.3" fill="#fff"/>
<ellipse cx="501.43" cy="349.91" rx="9.69" ry="5.23" stroke-width="3.1" fill="#e0e0e0"/>
<path d="M 494.23 348.54 L 508.63 348.54 M 494.57 351.29 L 508.28 351.29" stroke-width="1.4"/>
<path d="M514.71 364.14 L514.71 386.43 A11.14 6.43 0 0 0 537 386.43 L537 364.14 Z" fill="#fff" stroke-width="1.3"/>
<ellipse cx="525.85" cy="364.14" rx="11.14" ry="6.43" stroke-width="1.3" fill="#fff"/>
<ellipse cx="525.85" cy="364.48" rx="9.26" ry="5.23" stroke-width="3.1" fill="#e0e0e0"/>
<path d="M 518.66 363.11 L 533.05 363.11 M 519 365.86 L 532.71 365.86" stroke-width="1.4"/>
<path d="M539.14 378.71 L539.14 395 A11.14 6.43 0 0 0 561.43 395 L561.43 378.71 Z" fill="#fff" stroke-width="1.3"/>
<ellipse cx="550.28" cy="378.71" rx="11.14" ry="6.43" stroke-width="1.3" fill="#fff"/>
<ellipse cx="550.28" cy="379.06" rx="9.26" ry="5.23" stroke-width="3.1" fill="#e0e0e0"/>
<path d="M 543.08 377.68 L 557.48 377.68 M 543.43 380.43 L 557.14 380.43" stroke-width="1.4"/>
<path d="M468.43 362.43 L468.43 378.71 A11.14 6.43 0 0 0 490.71 378.71 L490.71 362.43 Z" fill="#fff" stroke-width="1.3"/>
<ellipse cx="479.57" cy="362.43" rx="11.14" ry="6.43" stroke-width="1.3" fill="#fff"/>
<ellipse cx="479.57" cy="362.77" rx="9.26" ry="5.23" stroke-width="3.1" fill="#e0e0e0"/>
<path d="M 472.37 361.4 L 486.77 361.4 M 472.71 364.14 L 486.43 364.14" stroke-width="1.4"/>
<path d="M492 377.86 L492 393.28 A11.57 6.69 0 0 0 515.14 393.28 L515.14 377.86 Z" fill="#fff" stroke-width="1.3"/>
<ellipse cx="503.57" cy="377.86" rx="11.57" ry="6.69" stroke-width="1.3" fill="#fff"/>
<ellipse cx="503.57" cy="378.2" rx="9.69" ry="5.49" stroke-width="3.1" fill="#e0e0e0"/>
<path d="M 496.37 376.83 L 510.77 376.83 M 496.71 379.57 L 510.43 379.57" stroke-width="1.4"/>
<path d="M517.28 392 L517.28 407.86 A11.14 6.69 0 0 0 539.57 407.86 L539.57 392 Z" fill="#fff" stroke-width="1.3"/>
<ellipse cx="528.43" cy="392" rx="11.14" ry="6.69" stroke-width="1.3" fill="#fff"/>
<ellipse cx="528.43" cy="392.34" rx="9.26" ry="5.49" stroke-width="3.1" fill="#e0e0e0"/>
<path d="M 521.23 390.97 L 535.63 390.97 M 521.57 393.71 L 535.28 393.71" stroke-width="1.4"/>
</svg>
</body></html>
